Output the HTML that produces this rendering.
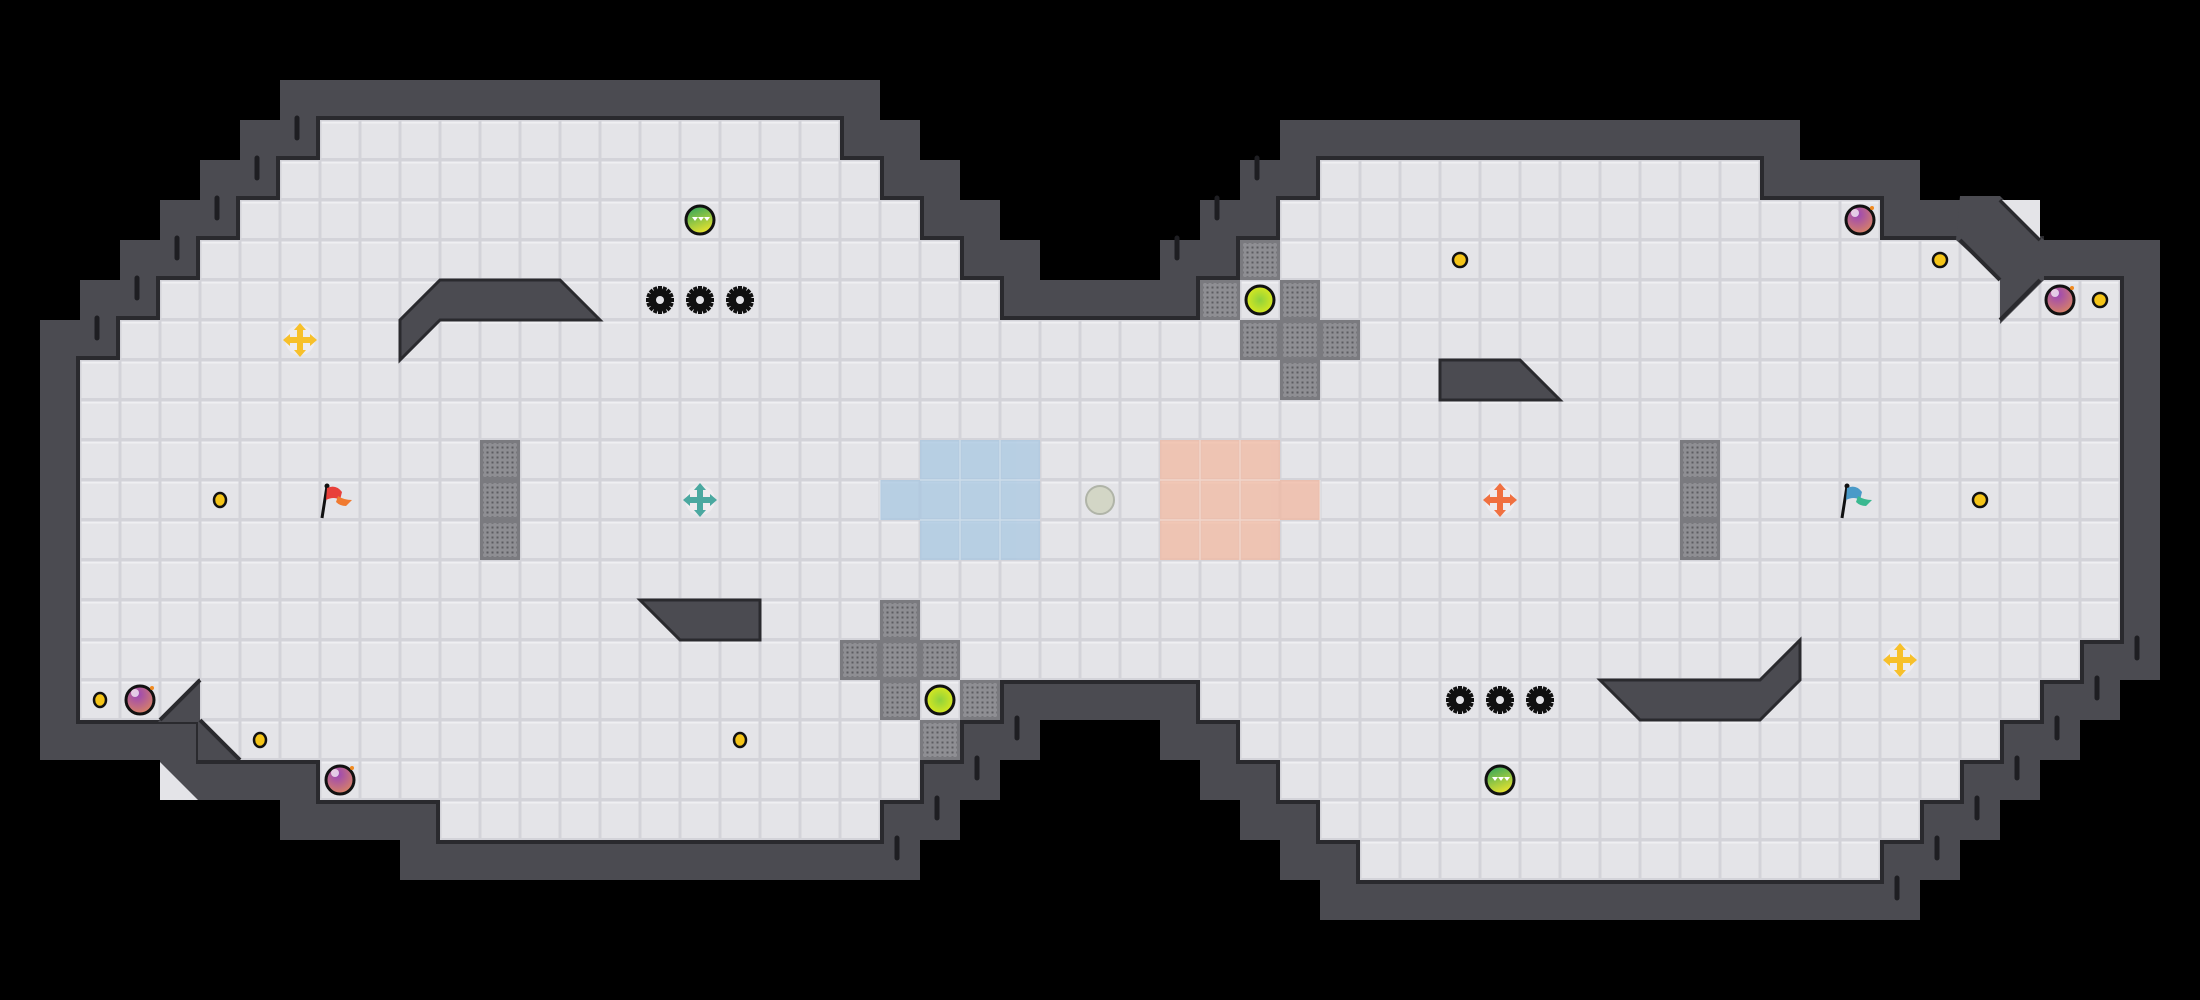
<!DOCTYPE html>
<html><head><meta charset="utf-8"><style>html,body{margin:0;padding:0;background:#000;}svg{display:block}</style></head>
<body>
<svg width="2200" height="1000" viewBox="0 0 2200 1000" xmlns="http://www.w3.org/2000/svg">
<defs>
<pattern id="t" width="40" height="40" patternUnits="userSpaceOnUse">
<rect width="40" height="40" fill="#d3d3d9"/><rect x="1.5" y="1.5" width="37" height="36.5" fill="#e4e4e8"/><rect x="1.5" y="1.5" width="37" height="2" fill="#efeff2"/>
</pattern>
<pattern id="d" width="5" height="5" patternUnits="userSpaceOnUse"><rect width="5" height="5" fill="#8e8e93"/><rect x="1.5" y="1.5" width="2" height="2" fill="#5c5c61"/></pattern>
<pattern id="m" width="40" height="40" patternUnits="userSpaceOnUse">
<rect width="40" height="40" fill="#7a7a7f"/><rect x="3" y="3" width="34" height="34" fill="url(#d)"/>
</pattern>
<radialGradient id="bub" cx="0.4" cy="0.3" r="0.8"><stop offset="0" stop-color="#9a45b8"/><stop offset="1" stop-color="#e08a5a"/></radialGradient>
<radialGradient id="yb" cx="0.5" cy="0.5" r="0.6"><stop offset="0" stop-color="#8fd23c"/><stop offset="1" stop-color="#e8ec1a"/></radialGradient>
<linearGradient id="gb" x1="0" y1="0" x2="0.4" y2="1"><stop offset="0" stop-color="#22a060"/><stop offset="1" stop-color="#e0e030"/></linearGradient>
</defs>
<rect width="2200" height="1000" fill="#000"/>
<g fill="#4b4b51">
<rect x="280" y="80" width="600" height="40"/>
<rect x="240" y="120" width="680" height="40"/><rect x="1280" y="120" width="520" height="40"/>
<rect x="200" y="160" width="760" height="40"/><rect x="1240" y="160" width="680" height="40"/>
<rect x="160" y="200" width="840" height="40"/><rect x="1200" y="200" width="840" height="40"/>
<rect x="120" y="240" width="920" height="40"/><rect x="1160" y="240" width="1000" height="40"/>
<rect x="80" y="280" width="2080" height="40"/>
<rect x="40" y="320" width="2120" height="360"/>
<rect x="40" y="680" width="2080" height="40"/>
<rect x="40" y="720" width="1000" height="40"/><rect x="1160" y="720" width="920" height="40"/>
<rect x="160" y="760" width="840" height="40"/><rect x="1200" y="760" width="840" height="40"/>
<rect x="280" y="800" width="680" height="40"/><rect x="1240" y="800" width="760" height="40"/>
<rect x="400" y="840" width="520" height="40"/><rect x="1280" y="840" width="680" height="40"/>
<rect x="1320" y="880" width="600" height="40"/>
</g>
<g fill="#2a2a2e" transform="translate(-4,-4)">
<rect x="320" y="120" width="528" height="48"/>
<rect x="280" y="160" width="608" height="48"/><rect x="1320" y="160" width="448" height="48"/>
<rect x="240" y="200" width="688" height="48"/><rect x="1280" y="200" width="608" height="48"/>
<rect x="200" y="240" width="768" height="48"/><rect x="1240" y="240" width="808" height="48"/>
<rect x="160" y="280" width="848" height="48"/><rect x="1200" y="280" width="928" height="48"/>
<rect x="120" y="320" width="2008" height="48"/>
<rect x="80" y="360" width="2048" height="288"/>
<rect x="80" y="640" width="2008" height="48"/>
<rect x="80" y="680" width="928" height="48"/><rect x="1200" y="680" width="848" height="48"/>
<rect x="200" y="720" width="768" height="48"/><rect x="1240" y="720" width="768" height="48"/>
<rect x="320" y="760" width="608" height="48"/><rect x="1280" y="760" width="688" height="48"/>
<rect x="440" y="800" width="448" height="48"/><rect x="1320" y="800" width="608" height="48"/>
<rect x="1360" y="840" width="528" height="48"/>
</g>
<g fill="url(#t)">
<rect x="320" y="120" width="520" height="40"/>
<rect x="280" y="160" width="600" height="40"/><rect x="1320" y="160" width="440" height="40"/>
<rect x="240" y="200" width="680" height="40"/><rect x="1280" y="200" width="600" height="40"/>
<rect x="200" y="240" width="760" height="40"/><rect x="1240" y="240" width="800" height="40"/>
<rect x="160" y="280" width="840" height="40"/><rect x="1200" y="280" width="920" height="40"/>
<rect x="120" y="320" width="2000" height="40"/>
<rect x="80" y="360" width="2040" height="280"/>
<rect x="80" y="640" width="2000" height="40"/>
<rect x="80" y="680" width="920" height="40"/><rect x="1200" y="680" width="840" height="40"/>
<rect x="200" y="720" width="760" height="40"/><rect x="1240" y="720" width="760" height="40"/>
<rect x="320" y="760" width="600" height="40"/><rect x="1280" y="760" width="680" height="40"/>
<rect x="440" y="800" width="440" height="40"/><rect x="1320" y="800" width="600" height="40"/>
<rect x="1360" y="840" width="520" height="40"/>
</g>
<g fill="#a9c8e2" opacity="0.75">
<rect x="920" y="440" width="120" height="120"/><rect x="880" y="480" width="40" height="40"/>
</g>
<g fill="#f2b9a2" opacity="0.75">
<rect x="1160" y="440" width="120" height="120"/><rect x="1280" y="480" width="40" height="40"/>
</g>
<g stroke="#ffffff" stroke-opacity="0.35" stroke-width="1.5" fill="none">
<path d="M920 480H1040M920 520H1040M960 440V560M1000 440V560M880 480V520"/>
<path d="M1160 480H1280M1160 520H1280M1200 440V560M1240 440V560M1320 480V520"/>
</g>
<g fill="url(#m)">
<rect x="480" y="440" width="40" height="40"/><rect x="480" y="480" width="40" height="40"/><rect x="480" y="520" width="40" height="40"/>
<rect x="1680" y="440" width="40" height="40"/><rect x="1680" y="480" width="40" height="40"/><rect x="1680" y="520" width="40" height="40"/>
<rect x="880" y="600" width="40" height="40"/><rect x="880" y="640" width="40" height="40"/><rect x="880" y="680" width="40" height="40"/><rect x="840" y="640" width="40" height="40"/><rect x="920" y="640" width="40" height="40"/><rect x="960" y="680" width="40" height="40"/><rect x="920" y="720" width="40" height="40"/>
<rect x="1240" y="240" width="40" height="40"/><rect x="1200" y="280" width="40" height="40"/><rect x="1280" y="280" width="40" height="40"/><rect x="1240" y="320" width="40" height="40"/><rect x="1280" y="320" width="40" height="40"/><rect x="1320" y="320" width="40" height="40"/><rect x="1280" y="360" width="40" height="40"/>
</g>
<g fill="#4b4b51" stroke="#2a2a2e" stroke-width="3" stroke-linejoin="miter">
<polygon points="440,280 560,280 600,320 440,320 400,360 400,320"/>
<polygon points="640,600 760,600 760,640 680,640"/>
<polygon points="1440,360 1520,360 1560,400 1440,400"/>
<polygon points="1600,680 1760,680 1800,640 1800,680 1760,720 1640,720"/>
</g>
<g fill="#4b4b51">
<polygon points="200,678 200,722 158,722"/>
<polygon points="198,718 198,760 240,760"/>
<polygon points="1960,196 2000,196 2044,240 2044,280 2000,324 2000,280 1956,240"/>
</g>
<g stroke="#2a2a2e" stroke-width="4"><line x1="200" y1="680" x2="160" y2="720"/><line x1="200" y1="720" x2="240" y2="760"/><line x1="1960" y1="240" x2="2000" y2="280"/><line x1="2040" y1="280" x2="2000" y2="320"/><line x1="2000" y1="200" x2="2040" y2="240"/></g>
<g fill="#e4e4e8"><polygon points="160,762 160,800 198,800"/><polygon points="2002,200 2040,200 2040,238"/></g>
<g stroke="#1e1e22" stroke-width="5" stroke-linecap="round">
<path d="M297 118V138M257 158V178M217 198V218M177 238V258M137 278V298M97 318V338"/>
<path d="M1017 718V738M977 758V778M937 798V818M897 838V858"/>
<path d="M1257 158V178M1217 198V218M1177 238V258"/>
<path d="M2137 638V658M2097 678V698M2057 718V738M2017 758V778M1977 798V818M1937 838V858M1897 878V898"/>
</g>
<circle cx="1100" cy="500" r="14" fill="#d3d6c6" stroke="#b0b4a8" stroke-width="2"/>
<g fill="#f5c518" stroke="#111" stroke-width="2.5">
<ellipse cx="220" cy="500" rx="6" ry="7"/><ellipse cx="100" cy="700" rx="6" ry="7"/><ellipse cx="260" cy="740" rx="6" ry="7"/><ellipse cx="740" cy="740" rx="6" ry="7"/>
<ellipse cx="1460" cy="260" rx="7" ry="7"/><ellipse cx="1940" cy="260" rx="7" ry="7"/><ellipse cx="2100" cy="300" rx="7" ry="7"/><ellipse cx="1980" cy="500" rx="7" ry="7"/>
</g>
<g fill="url(#bub)" stroke="#111" stroke-width="3">
<circle cx="140" cy="700" r="14"/><circle cx="340" cy="780" r="14"/><circle cx="1860" cy="220" r="14"/><circle cx="2060" cy="300" r="14"/>
</g>
<g fill="#fff" opacity="0.7"><circle cx="135" cy="693" r="4"/><circle cx="335" cy="773" r="4"/><circle cx="1855" cy="213" r="4"/><circle cx="2055" cy="293" r="4"/></g>
<g fill="#f08a20"><circle cx="152" cy="688" r="2"/><circle cx="352" cy="768" r="2"/><circle cx="1872" cy="208" r="2"/><circle cx="2072" cy="288" r="2"/></g>
<g fill="url(#yb)" stroke="#111" stroke-width="3"><circle cx="940" cy="700" r="14"/><circle cx="1260" cy="300" r="14"/></g>
<g stroke="#111" stroke-width="3" fill="url(#gb)"><circle cx="700" cy="220" r="14"/><circle cx="1500" cy="780" r="14"/></g>
<g fill="#fff"><path d="M692 217l3 4 3-4zM698 217l3 4 3-4zM704 217l3 4 3-4z"/><path d="M1492 777l3 4 3-4zM1498 777l3 4 3-4zM1504 777l3 4 3-4z"/></g>
<g fill="#111">
<g transform="translate(660,300)"><circle r="11"/><path d="M-2-14h4v28h-4zM-14-2h28v4h-28z"/><path d="M-2-14h4v28h-4zM-14-2h28v4h-28z" transform="rotate(45)"/><path d="M-2-14h4v28h-4zM-14-2h28v4h-28z" transform="rotate(22.5)"/><path d="M-2-14h4v28h-4zM-14-2h28v4h-28z" transform="rotate(67.5)"/><circle r="4" fill="#e4e4e8"/></g>
<g transform="translate(700,300)"><circle r="11"/><path d="M-2-14h4v28h-4zM-14-2h28v4h-28z"/><path d="M-2-14h4v28h-4zM-14-2h28v4h-28z" transform="rotate(45)"/><path d="M-2-14h4v28h-4zM-14-2h28v4h-28z" transform="rotate(22.5)"/><path d="M-2-14h4v28h-4zM-14-2h28v4h-28z" transform="rotate(67.5)"/><circle r="4" fill="#e4e4e8"/></g>
<g transform="translate(740,300)"><circle r="11"/><path d="M-2-14h4v28h-4zM-14-2h28v4h-28z"/><path d="M-2-14h4v28h-4zM-14-2h28v4h-28z" transform="rotate(45)"/><path d="M-2-14h4v28h-4zM-14-2h28v4h-28z" transform="rotate(22.5)"/><path d="M-2-14h4v28h-4zM-14-2h28v4h-28z" transform="rotate(67.5)"/><circle r="4" fill="#e4e4e8"/></g>
<g transform="translate(1460,700)"><circle r="11"/><path d="M-2-14h4v28h-4zM-14-2h28v4h-28z"/><path d="M-2-14h4v28h-4zM-14-2h28v4h-28z" transform="rotate(45)"/><path d="M-2-14h4v28h-4zM-14-2h28v4h-28z" transform="rotate(22.5)"/><path d="M-2-14h4v28h-4zM-14-2h28v4h-28z" transform="rotate(67.5)"/><circle r="4" fill="#e4e4e8"/></g>
<g transform="translate(1500,700)"><circle r="11"/><path d="M-2-14h4v28h-4zM-14-2h28v4h-28z"/><path d="M-2-14h4v28h-4zM-14-2h28v4h-28z" transform="rotate(45)"/><path d="M-2-14h4v28h-4zM-14-2h28v4h-28z" transform="rotate(22.5)"/><path d="M-2-14h4v28h-4zM-14-2h28v4h-28z" transform="rotate(67.5)"/><circle r="4" fill="#e4e4e8"/></g>
<g transform="translate(1540,700)"><circle r="11"/><path d="M-2-14h4v28h-4zM-14-2h28v4h-28z"/><path d="M-2-14h4v28h-4zM-14-2h28v4h-28z" transform="rotate(45)"/><path d="M-2-14h4v28h-4zM-14-2h28v4h-28z" transform="rotate(22.5)"/><path d="M-2-14h4v28h-4zM-14-2h28v4h-28z" transform="rotate(67.5)"/><circle r="4" fill="#e4e4e8"/></g>
</g>
<g transform="translate(300,340)"><circle r="15" fill="#f0eef0" opacity="0.8"/><path d="M-3-11h6v8h8v6h-8v8h-6v-8h-8v-6h8z" fill="#f7c02a"/><path d="M0-17l6 7h-12zM0 17l6-7h-12zM-17 0l7 6v-12zM17 0l-7 6v-12z" fill="#f7c02a"/></g>
<g transform="translate(1900,660)"><circle r="15" fill="#f0eef0" opacity="0.8"/><path d="M-3-11h6v8h8v6h-8v8h-6v-8h-8v-6h8z" fill="#f7c02a"/><path d="M0-17l6 7h-12zM0 17l6-7h-12zM-17 0l7 6v-12zM17 0l-7 6v-12z" fill="#f7c02a"/></g>
<g transform="translate(700,500)"><circle r="15" fill="#f0eef0" opacity="0.8"/><path d="M-3-11h6v8h8v6h-8v8h-6v-8h-8v-6h8z" fill="#4aa8a0"/><path d="M0-17l6 7h-12zM0 17l6-7h-12zM-17 0l7 6v-12zM17 0l-7 6v-12z" fill="#4aa8a0"/></g>
<g transform="translate(1500,500)"><circle r="15" fill="#f0eef0" opacity="0.8"/><path d="M-3-11h6v8h8v6h-8v8h-6v-8h-8v-6h8z" fill="#f07040"/><path d="M0-17l6 7h-12zM0 17l6-7h-12zM-17 0l7 6v-12zM17 0l-7 6v-12z" fill="#f07040"/></g>
<g transform="translate(322,486)"><line x1="0" y1="32" x2="5" y2="0" stroke="#111" stroke-width="3"/><circle cx="5" cy="0" r="2.5" fill="#111"/><path d="M5 2 Q14 -2 20 6 L18 14 Q12 10 4 14 Z" fill="#e8403a"/><path d="M16 10 Q22 14 30 14 L24 20 Q18 20 14 16 Z" fill="#f07a30"/></g>
<g transform="translate(1842,486)"><line x1="0" y1="32" x2="5" y2="0" stroke="#111" stroke-width="3"/><circle cx="5" cy="0" r="2.5" fill="#111"/><path d="M5 2 Q14 -2 20 6 L18 14 Q12 10 4 14 Z" fill="#4a9ac8"/><path d="M16 10 Q22 14 30 14 L24 20 Q18 20 14 16 Z" fill="#3ab890"/></g>
</svg>
</body></html>
